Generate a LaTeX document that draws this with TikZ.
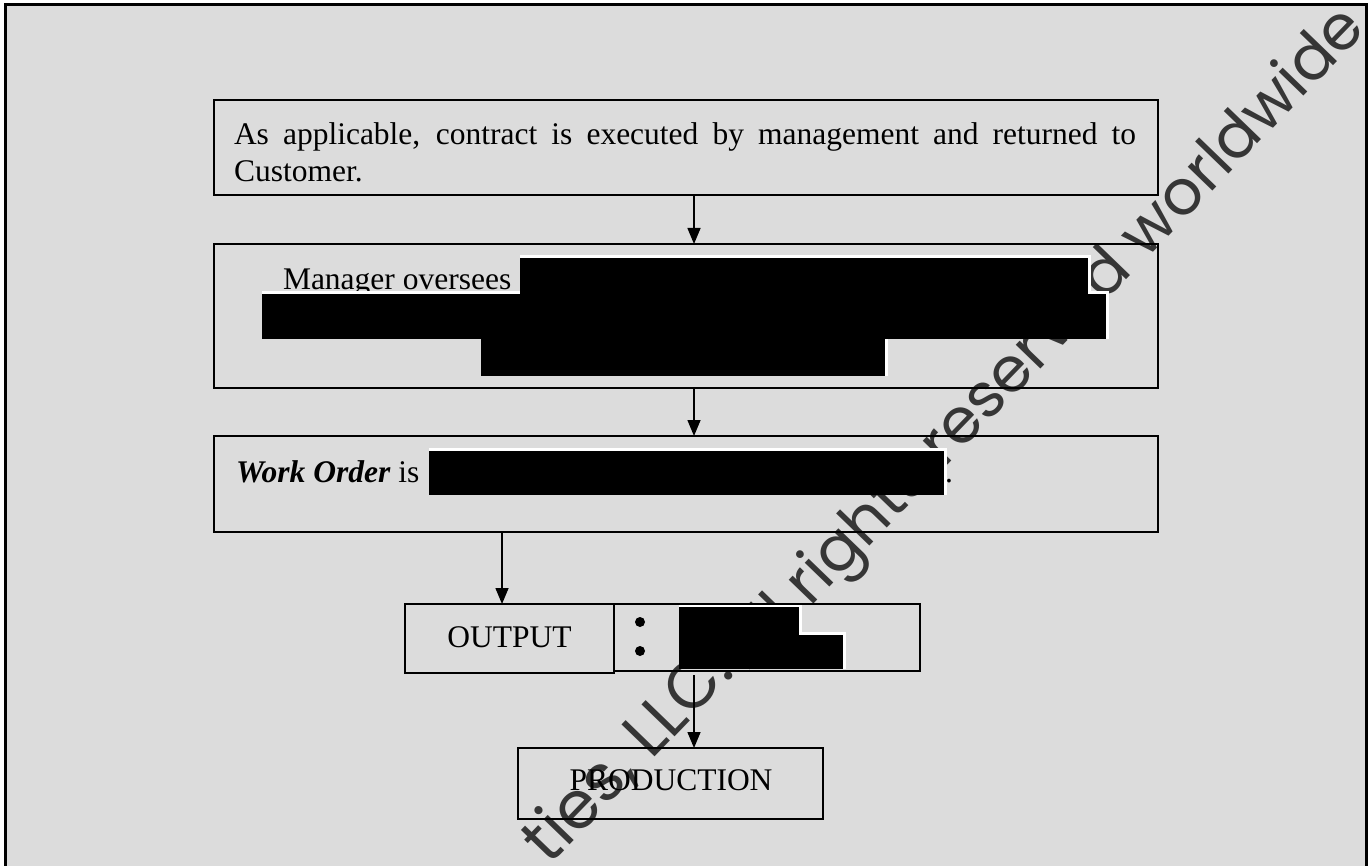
\documentclass[tikz,border=0pt]{standalone}
\usepackage{fontspec}
\setmainfont{Liberation Serif}
\newfontfamily\wmfont{Poppins}
\usetikzlibrary{arrows.meta}
\definecolor{bggray}{HTML}{DCDCDC}
\definecolor{wmgray}{HTML}{363636}
\tikzset{
  box/.style={draw=black, line width=2.2pt, inner sep=0pt, outer sep=0pt, anchor=north west},
  arr/.style={line width=1.5pt, -{Triangle[length=16pt,width=13pt]}},
  txt/.style={inner sep=0pt, outer sep=0pt, anchor=base west, font=\fontsize{31.5}{37}\selectfont},
  wmark/.style={rotate=46, anchor=base east, inner sep=0pt, text=wmgray},
  redact/.style={fill=black},
  redge/.style={fill=white}
}
\begin{document}
\begin{tikzpicture}[x=1pt,y=-1pt]
\useasboundingbox (0,0) rectangle (1372,866);
\fill[white] (0,0) rectangle (1372,866);
\fill[bggray] (5,5) rectangle (1366,880);
% watermark
\begin{scope}
\clip (5,5) rectangle (1366,866);
\node[wmark, font=\wmfont\fontsize{66}{66}\selectfont] (wm1) at (736,673) {ties, LLC.};
\node[wmark, font=\wmfont\fontsize{62.5}{62.5}\selectfont] (wm2) at (1368,30) {All rights reserved worldwide};
\end{scope}
\draw[line width=3pt] (5,880) -- (5,5) -- (1366,5) -- (1366,880);
% boxes
\node[box, minimum width=944pt, minimum height=95pt] (b1) at (214,100) {};
\node[box, minimum width=944pt, minimum height=144pt] (b2) at (214,244) {};
\node[box, minimum width=944pt, minimum height=96pt] (b3) at (214,436) {};
\node[box, minimum width=209pt, minimum height=69pt] (out) at (405,604) {};
\node[box, minimum width=306pt, minimum height=67pt] (outr) at (614,604) {};
\node[box, minimum width=305pt, minimum height=71pt] (prod) at (518,748) {};
% texts
\node[txt] (t1) at (234,145) {\parbox[t]{902pt}{\fontsize{31.5}{37}\selectfont As applicable, contract is executed by management and returned to\linebreak Customer.}};
\node[txt] (t2) at (283,290) {Manager oversees};
\node[txt] (t3) at (236,482) {\textbf{\textit{Work Order}} is};
\node[txt] (t3b) at (945,482) {.};
\node[txt, anchor=base] (t4) at (509.5,647) {OUTPUT};
\node[txt, anchor=base] (t5) at (671,790) {PRODUCTION};
% bullets
\fill (640,622) circle (5pt);
\fill (640,651) circle (5pt);
% redactions (white edge on top and right, then black)
\fill[redge] (520,255) rectangle (1091,294);
\fill[redge] (262,291) rectangle (1109,339);
\fill[redge] (481,339) rectangle (888,376);
\fill[redge] (429,448) rectangle (947,495);
\fill[redge] (679,604.5) rectangle (802,636);
\fill[redge] (679,632) rectangle (846,669);
\fill[redact] (520,258) rectangle (1088,294);
\fill[redact] (262,294) rectangle (1106,339);
\fill[redact] (481,339) rectangle (885,376);
\fill[redact] (429,451) rectangle (944,495);
\fill[redact] (679,607) rectangle (799,636);
\fill[redact] (679,635) rectangle (843,669);
% connectors
\coordinate (ax) at (694,0);
\coordinate (bx) at (502,0);
\draw[arr] (b1.south -| ax) -- (b2.north -| ax);
\draw[arr] (b2.south -| ax) -- (b3.north -| ax);
\draw[arr] (b3.south -| bx) -- (out.north -| bx);
\draw[arr] ([yshift=-4pt]outr.south -| ax) -- (prod.north -| ax);
\end{tikzpicture}
\end{document}
